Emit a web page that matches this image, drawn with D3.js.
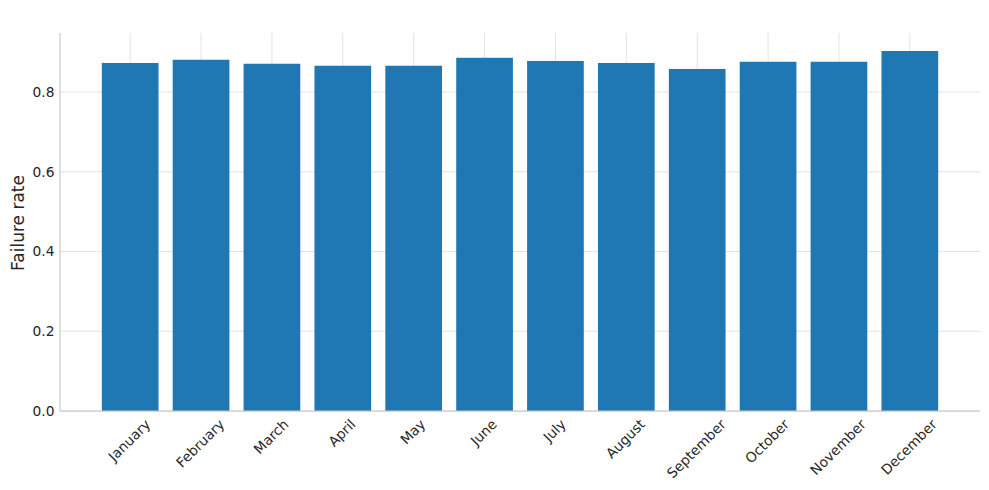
<!DOCTYPE html>
<html>
<head>
<meta charset="utf-8">
<script src="https://cdn.jsdelivr.net/npm/d3@7"></script>
<style>
  body { margin: 0; background: #fff; }
  svg { display: block; font-family: "DejaVu Sans", sans-serif; }
</style>
</head>
<body>
<div id="chart"></div>
<script>
// data
const months = ['January', 'February', 'March', 'April', 'May', 'June',
  'July', 'August', 'September', 'October', 'November', 'December'];
const failureRate = [0.873, 0.881, 0.871, 0.866, 0.866, 0.886,
  0.878, 0.873, 0.858, 0.876, 0.876, 0.903];
const yTicks = [0.0, 0.2, 0.4, 0.6, 0.8];

const width = 989;
const height = 490;
const margin = { top: 33, right: 9, bottom: 79, left: 60 };
const plotW = width - margin.left - margin.right;
const plotH = height - margin.top - margin.bottom;
const tickFont = 13.8;

const svg = d3.select('#chart')
  .append('svg')
  .attr('width', width)
  .attr('height', height);

const g = svg.append('g')
  .attr('transform', `translate(${margin.left}, ${margin.top})`);

// matplotlib-like linear x: bars at 0..n-1, width 0.8, 5% margins
const n = months.length;
const span = (n - 1) + 0.8;
const xScale = d3.scaleLinear()
  .domain([-0.4 - span * 0.05, n - 1 + 0.4 + span * 0.05])
  .range([0, plotW]);

const yMax = d3.max(failureRate) * 1.05;
const yScale = d3.scaleLinear()
  .domain([0, yMax])
  .range([plotH, 0]);

// grid
g.append('g')
  .selectAll('line')
  .data(yTicks)
  .enter()
  .append('line')
  .attr('x1', 0)
  .attr('x2', plotW)
  .attr('y1', d => yScale(d))
  .attr('y2', d => yScale(d))
  .attr('stroke', '#e3e3e3')
  .attr('stroke-width', 1);

g.append('g')
  .selectAll('line')
  .data(months)
  .enter()
  .append('line')
  .attr('x1', (d, i) => xScale(i))
  .attr('x2', (d, i) => xScale(i))
  .attr('y1', 0)
  .attr('y2', plotH)
  .attr('stroke', '#e3e3e3')
  .attr('stroke-width', 1);

// bars
const barW = xScale(0.8) - xScale(0);
g.selectAll('.bar')
  .data(failureRate)
  .enter()
  .append('rect')
  .attr('class', 'bar')
  .attr('x', (d, i) => xScale(i) - barW / 2)
  .attr('y', d => yScale(d))
  .attr('width', barW)
  .attr('height', d => plotH - yScale(d))
  .attr('fill', '#1f77b4');

// spines (left and bottom only)
g.append('line')
  .attr('x1', 0).attr('x2', 0)
  .attr('y1', 0).attr('y2', plotH)
  .attr('stroke', '#cccccc').attr('stroke-width', 1.25);
g.append('line')
  .attr('x1', 0).attr('x2', plotW)
  .attr('y1', plotH).attr('y2', plotH)
  .attr('stroke', '#cccccc').attr('stroke-width', 1.25);

// y axis
const yAxis = d3.axisLeft(yScale)
  .tickValues(yTicks)
  .tickFormat(d3.format('.1f'))
  .tickSize(0)
  .tickPadding(5.5);
const yAxisG = g.append('g').call(yAxis);
yAxisG.select('.domain').remove();
yAxisG.selectAll('text')
  .attr('font-size', tickFont)
  .attr('font-family', '"DejaVu Sans", sans-serif')
  .attr('fill', '#262626');

// x tick labels rotated 45, bbox centred on tick like matplotlib
const xLabels = g.append('g')
  .selectAll('text')
  .data(months)
  .enter()
  .append('text')
  .attr('font-size', tickFont)
  .attr('fill', '#262626')
  .attr('text-anchor', 'middle')
  .attr('dominant-baseline', 'central')
  .text(d => d);

xLabels.each(function (d, i) {
  const w = this.getComputedTextLength();
  const h = tickFont * 1.16;
  const half = (w + h) / (2 * Math.SQRT2);
  const cx = xScale(i) - 1;
  const cy = plotH + 5 + half;
  d3.select(this)
    .attr('transform', `translate(${cx}, ${cy}) rotate(-45)`);
});

// y axis label
svg.append('text')
  .attr('transform', `translate(${18}, ${margin.top + plotH / 2 + 1}) rotate(-90)`)
  .attr('text-anchor', 'middle')
  .attr('dominant-baseline', 'central')
  .attr('font-size', 17)
  .attr('fill', '#262626')
  .text('Failure rate');
</script>
</body>
</html>
